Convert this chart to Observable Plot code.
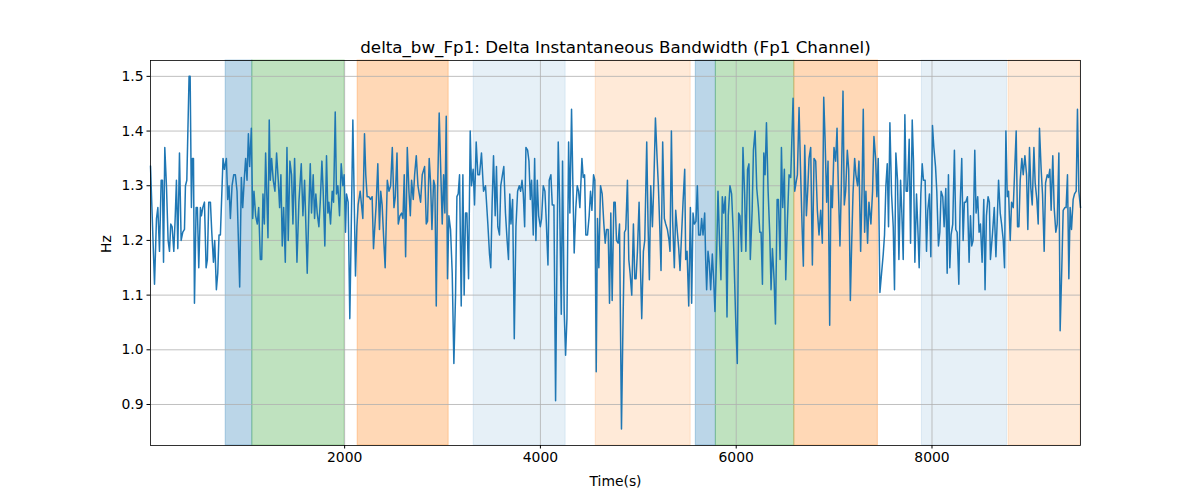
<!DOCTYPE html>
<html><head><meta charset="utf-8">
<script src="https://cdn.jsdelivr.net/npm/d3@7"></script>
<script src="https://cdn.jsdelivr.net/npm/@observablehq/plot@0.6"></script>
<style>body{margin:0;background:#fff;}</style>
</head><body><div id="chart"></div>
<script>
const title = "delta_bw_Fp1: Delta Instantaneous Bandwidth (Fp1 Channel)";
const xLabel = "Time(s)";
const yLabel = "Hz";
const xTicks = [2000, 4000, 6000, 8000];
const yTicks = [0.9, 1.0, 1.1, 1.2, 1.3, 1.4, 1.5];
const xDomain = [17, 9517];
const yDomain = [0.825, 1.529];

const spanStart = [785, 1057, 2133, 3318, 4565, 5587, 5792, 6594, 7897, 8782];
const spanEnd   = [1057, 2000, 3063, 4258, 5535, 5792, 6594, 7447, 8766, 9517];
const spanKind  = ["blue", "green", "orange", "lightblue", "lightorange", "blue", "green", "orange", "lightblue", "lightorange"];
const kindColor = {blue: "#1f77b4", green: "#2ca02c", orange: "#ff7f0e", lightblue: "#1f77b4", lightorange: "#ff7f0e"};
const kindAlpha = {blue: 0.3, green: 0.3, orange: 0.3, lightblue: 0.11, lightorange: 0.16};

const time = [
17,58,78,92,109,126,139,150,163,180,197,211,224,238,255,269,282,296,313,330,347,364,374,388,411,422,435,445,456,466,483,496,510,527,537,551,568,585,598,612,629,643,660,673,690,704,717,731,758,772,792,806,819,833,850,867,884,901,928,945,959,976,989,1003,1017,1030,1047,1061,1074,1091,1108,1122,1139,1153,1166,1180,
1193,1217,1230,1241,1254,1271,1288,1305,1322,1336,1349,1363,1377,1394,1411,1424,1441,1458,1472,1489,1513,1533,1557,1574,1591,1618,1635,1649,1662,1679,1693,1706,1720,1737,1751,1768,1781,1798,1815,1829,1839,1856,1873,1887,1904,1917,1931,1948,1965,1982,1995,2009,2019,2036,2053,2067,2084,2097,2111,2125,2138,2159,2186,2203,2216,2230,2247,2264,2281,2295,2322,2339,2356,2369,2383,2400,2414,
2436,2453,2470,2487,2504,2518,2535,2548,2565,2582,2596,2609,2623,2640,2657,2671,2684,2701,2715,2732,2749,2762,2776,2793,2817,2834,2847,2864,2878,2892,2909,2922,2936,2949,2966,2983,2997,3011,3024,3038,3051,3065,3082,3099,3116,3133,3147,3160,3174,3191,3208,3221,3235,3249,3266,3283,3296,3313,3327,3344,3361,3378,3398,3419,3439,3463,3480,3493,3507,3521,3538,3551,3565,3582,3595,3612,3626,3643,3660,3674,3687,
3699,3716,3733,3750,3767,3784,3798,3812,3825,3839,3852,3869,3883,3897,3910,3927,3941,3954,3968,3982,3999,4012,4029,4046,4060,4077,4090,4107,4121,4138,4155,4169,4182,4196,4213,4226,4243,4257,4271,4288,4301,4318,4332,4345,4362,4376,4390,4403,4424,4437,4451,4464,4481,4498,4512,4526,4543,4556,4570,4583,4597,4614,4631,4648,4662,4675,4692,4706,4719,4733,4750,4764,4777,4794,4808,4828,4842,4859,4872,4889,4903,
4916,4933,4950,4964,4977,4991,5008,5022,5035,5052,5066,5086,5100,5113,5127,5144,5158,5175,5192,5205,5219,5232,5249,5266,5280,5297,5314,5324,5338,5351,5368,5382,5399,5413,5426,5443,5457,5474,5484,5498,5515,5532,5545,5559,5572,5589,5603,5617,5634,5647,5661,5678,5688,5698,5712,5725,5739,5756,5770,5783,5800,5814,5831,5844,5858,5872,5889,5906,5919,5936,5953,5970,5994,6011,6025,6038,6055,6069,6086,6099,6116,6130,6144,
6163,6176,6193,6210,6227,6241,6254,6268,6282,6295,6309,6326,6343,6356,6370,6387,6401,6418,6431,6448,6462,6475,6492,6506,6523,6540,6557,6581,6598,6615,6625,6642,6656,6673,6686,6700,6717,6730,6744,6761,6778,6795,6812,6829,6846,6863,6880,6894,6907,6924,6938,6955,6968,6982,6999,7016,7030,7043,7060,7074,7091,7104,7118,7135,7149,7166,7179,7193,7210,7223,7240,7254,7271,7285,7298,7312,7325,7342,7356,
7376,7393,7407,7424,7437,7451,7468,7485,7502,7515,7529,7543,7556,7570,7587,7604,7617,7631,7648,7662,7679,7692,7706,7723,7736,7750,7767,7781,7798,7811,7825,7842,7855,7869,7886,7900,7913,7930,7944,7957,7974,7988,8005,8019,8036,8049,8066,8080,8093,8110,8124,8141,8155,8168,8182,8195,8212,8229,8243,8257,8274,8287,8304,8318,8331,8345,8362,8379,8393,8406,8420,8437,8450,8467,8481,8495,8512,8529,8542,8556,8573,8586,8597,
8619,8636,8653,8667,8680,8697,8711,8728,8741,8755,8769,8782,8799,8813,8830,8843,8860,8874,8888,8901,8918,8932,8949,8966,8979,8996,9010,9024,9041,9054,9071,9085,9098,9115,9129,9146,9160,9177,9190,9204,9217,9234,9248,9265,9279,9296,9309,9326,9340,9357,9370,9384,9398,9411,9425,9442,9456,9473,9486,9500,9517
];
const hz = [
1.336,1.12,1.24,1.26,1.18,1.31,1.31,1.16,1.37,1.30,1.20,1.18,1.23,1.225,1.18,1.24,1.31,1.185,1.36,1.20,1.215,1.22,1.30,1.31,1.50,1.50,1.26,1.35,1.35,1.085,1.26,1.26,1.15,1.26,1.245,1.26,1.27,1.15,1.165,1.27,1.27,1.215,1.16,1.20,1.11,1.14,1.21,1.21,1.35,1.33,1.35,1.275,1.30,1.24,1.30,1.32,1.32,1.29,1.115,1.315,1.26,1.315,1.35,1.31,1.395,1.335,1.405,1.24,1.29,1.245,1.23,1.26,1.165,1.165,1.285,1.23,
1.36,1.205,1.42,1.31,1.35,1.31,1.29,1.36,1.31,1.26,1.32,1.19,1.26,1.16,1.37,1.20,1.345,1.32,1.23,1.35,1.16,1.27,1.34,1.245,1.31,1.14,1.26,1.34,1.25,1.32,1.24,1.285,1.25,1.225,1.27,1.345,1.29,1.19,1.355,1.25,1.27,1.23,1.29,1.27,1.435,1.285,1.30,1.245,1.34,1.30,1.32,1.215,1.285,1.27,1.057,1.215,1.42,1.285,1.135,1.225,1.265,1.29,1.24,1.395,1.32,1.28,1.28,1.275,1.28,1.185,1.265,1.34,1.22,1.29,1.265,1.20,1.15,
1.31,1.29,1.30,1.37,1.26,1.28,1.36,1.23,1.245,1.25,1.24,1.32,1.17,1.37,1.29,1.245,1.31,1.275,1.32,1.355,1.30,1.285,1.27,1.32,1.335,1.23,1.235,1.35,1.305,1.22,1.31,1.30,1.08,1.285,1.433,1.32,1.23,1.32,1.25,1.427,1.13,1.245,1.22,1.14,0.975,1.10,1.28,1.285,1.32,1.08,1.32,1.10,1.25,1.25,1.13,1.40,1.30,1.33,1.265,1.38,1.32,1.32,1.36,1.29,1.30,1.23,1.175,1.15,1.27,1.355,1.245,1.335,1.225,1.21,1.30,1.32,1.335,1.25,1.20,1.165,1.285,
1.23,1.275,1.02,1.225,1.29,1.30,1.29,1.31,1.285,1.225,1.37,1.365,1.345,1.275,1.31,1.21,1.35,1.20,1.31,1.245,1.225,1.24,1.30,1.29,1.235,1.155,1.31,1.32,1.265,1.265,0.907,1.165,1.38,1.275,1.065,1.345,1.07,0.99,1.057,1.38,1.25,1.44,1.30,1.177,1.26,1.30,1.29,1.26,1.35,1.315,1.32,1.21,1.21,1.245,1.29,1.255,1.32,1.31,0.96,1.24,1.15,1.30,1.285,1.23,1.195,1.22,1.22,1.085,1.25,1.09,1.27,1.27,1.20,1.195,1.23,0.855,1.03,1.215,1.22,1.31,1.165,
1.14,1.10,1.23,1.13,1.13,1.18,1.27,1.15,1.057,1.18,1.20,1.38,1.225,1.128,1.30,1.225,1.30,1.424,1.35,1.30,1.225,1.145,1.38,1.24,1.23,1.22,1.20,1.18,1.40,1.235,1.15,1.255,1.215,1.185,1.145,1.215,1.27,1.33,1.165,1.18,1.08,1.26,1.085,1.25,1.23,1.235,1.30,1.21,1.21,1.24,1.21,1.25,1.165,1.11,1.18,1.16,1.11,1.175,1.128,1.07,1.175,1.29,1.19,1.128,1.28,1.25,1.28,1.06,1.245,1.30,1.285,1.215,1.06,0.975,1.25,1.245,1.18,1.37,1.285,1.18,1.33,1.34,1.165,
1.255,1.365,1.40,1.295,1.26,1.215,1.215,1.12,1.36,1.32,1.415,1.29,1.21,1.11,1.185,1.128,1.047,1.275,1.275,1.165,1.37,1.26,1.33,1.128,1.235,1.32,1.315,1.46,1.29,1.31,1.32,1.443,1.337,1.225,1.153,1.374,1.245,1.29,1.35,1.37,1.155,1.35,1.345,1.255,1.21,1.255,1.195,1.462,1.39,1.27,1.345,1.045,1.30,1.26,1.37,1.345,1.405,1.30,1.19,1.30,1.473,1.265,1.29,1.365,1.33,1.09,1.19,1.285,1.35,1.32,1.30,1.345,1.18,1.29,1.44,1.215,1.29,1.195,1.27,
1.23,1.29,1.39,1.35,1.28,1.35,1.105,1.14,1.175,1.21,1.30,1.34,1.225,1.415,1.285,1.225,1.11,1.36,1.31,1.165,1.31,1.25,1.165,1.43,1.29,1.29,1.385,1.195,1.42,1.345,1.16,1.285,1.225,1.15,1.285,1.34,1.31,1.31,1.18,1.255,1.285,1.17,1.41,1.37,1.335,1.29,1.19,1.215,1.29,1.28,1.225,1.295,1.14,1.32,1.15,1.21,1.23,1.365,1.22,1.215,1.12,1.26,1.35,1.20,1.27,1.27,1.28,1.16,1.245,1.19,1.20,1.365,1.25,1.28,1.215,1.23,1.16,1.275,1.11,1.245,1.28,1.27,1.165,
1.215,1.26,1.17,1.24,1.31,1.25,1.23,1.20,1.15,1.40,1.28,1.29,1.20,1.27,1.26,1.32,1.40,1.225,1.225,1.31,1.35,1.32,1.355,1.32,1.22,1.37,1.295,1.265,1.37,1.305,1.275,1.23,1.405,1.33,1.285,1.18,1.305,1.32,1.315,1.33,1.255,1.355,1.26,1.215,1.23,1.36,1.035,1.15,1.255,1.26,1.26,1.32,1.13,1.26,1.22,1.275,1.285,1.29,1.44,1.29,1.26
];

const series = time.map((t, i) => ({t, v: hz[i]}));
const spans = spanStart.map((s, i) => ({s, e: spanEnd[i], k: spanKind[i], y1: yDomain[0], y2: yDomain[1]}));

const chart = Plot.plot({
  width: 1200,
  height: 500,
  marginLeft: 150,
  marginRight: 120,
  marginTop: 60,
  marginBottom: 55,
  style: {fontFamily: "DejaVu Sans, sans-serif", fontSize: "13.9px", background: "white", color: "black", overflow: "visible"},
  x: {domain: xDomain, ticks: 5, tickFormat: d3.format("d"), tickSize: 3.5, tickPadding: 3.5, label: null},
  y: {domain: yDomain, ticks: 7, tickFormat: d3.format(".1f"), tickSize: 3.5, tickPadding: 3.5, label: null},
  marks: [
    Plot.rect(spans, {
      x1: "s", x2: "e", y1: "y1", y2: "y2",
      fill: d => kindColor[d.k], fillOpacity: d => kindAlpha[d.k],
      stroke: d => kindColor[d.k], strokeOpacity: d => kindAlpha[d.k], strokeWidth: 1
    }),
    Plot.ruleX(xTicks, {stroke: "#b0b0b0", strokeWidth: 0.8}),
    Plot.ruleY(yTicks, {stroke: "#b0b0b0", strokeWidth: 0.8}),
    Plot.line(series, {x: "t", y: "v", stroke: "#1f77b4", strokeWidth: 1.5}),
    Plot.frame({stroke: "black", strokeWidth: 0.8}),
    Plot.text([title], {text: d => d, frameAnchor: "top", dy: -19, fontSize: 16.7}),
    Plot.text([xLabel], {text: d => d, frameAnchor: "bottom", dy: 40}),
    Plot.text([yLabel], {text: d => d, frameAnchor: "left", dx: -44, rotate: -90})
  ]
});
document.getElementById("chart").appendChild(chart);
</script>
</body></html>
